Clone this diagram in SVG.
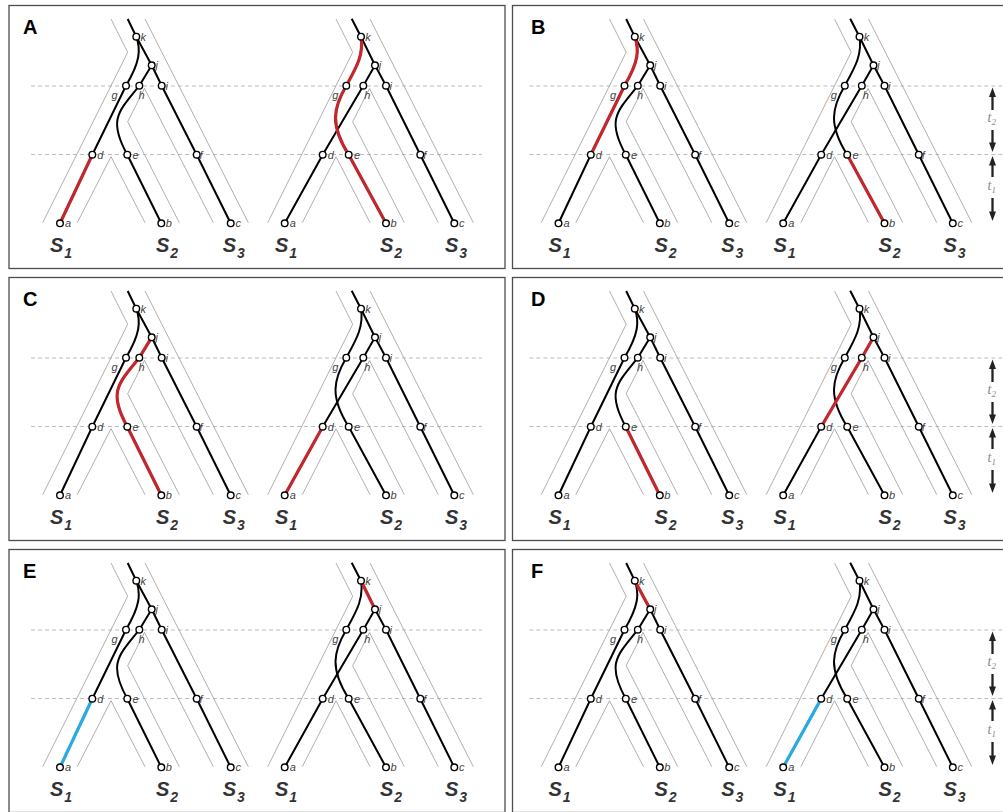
<svg xmlns="http://www.w3.org/2000/svg" xmlns:xlink="http://www.w3.org/1999/xlink" width="1003" height="812" viewBox="0 0 1003 812">
<style>
.panel{fill:#fff;stroke:#4d4d4d;stroke-width:1.3}
.sp{fill:none;stroke:#9a9a9a;stroke-width:0.8}
.dash{stroke:#b5b5b5;stroke-width:0.9;stroke-dasharray:4 3;fill:none}
.gene path{fill:none;stroke:#000;stroke-width:2;stroke-linejoin:round}
.red{fill:none;stroke:#c1272d;stroke-width:3.2;stroke-linecap:round;stroke-linejoin:round}
.blue{fill:none;stroke:#29abe2;stroke-width:3.2;stroke-linecap:round}
.nd{fill:#fff;stroke:#000;stroke-width:1.4}
.lb{font-family:"Liberation Sans",Arial,sans-serif;font-style:italic;font-size:11px;fill:#444}
.sl{font-family:"Liberation Sans",Arial,sans-serif;font-style:italic;font-weight:bold;font-size:20px;fill:#333}
.pl{font-family:"Liberation Sans",Arial,sans-serif;font-weight:bold;font-size:20px;fill:#000}
.tl{font-family:"Liberation Serif","Times New Roman",serif;font-style:italic;font-size:14px;fill:#8a8a8a}
.ar{stroke:#222;stroke-width:2.3;fill:none}
.ah{fill:#222}
</style>
<defs>
<g id="species">
<path class="sp" d="M111,19 L127.7,52.3 L42.7,222.7"/>
<path class="sp" d="M145,19 L248.3,222.7"/>
<path class="sp" d="M77.3,222.7 L111,156.7 L145,222.7"/>
<path class="sp" d="M179.3,222.7 L127.7,121.7 L144.5,88.5 L213.3,222.7"/>
</g>
<g id="geneL" class="gene">
<path d="M127.7,19 L136.3,36.7 L151.7,65.3 L161.7,85.7 L196.7,154.7 L230.7,223.3"/>
<path d="M136.3,36.7 C141,50 140,62 126,85.7 L92.3,154.7 L60,223.3"/>
<path d="M151.7,65.3 L139.3,85.7 C118,112 108,120 127.3,154.7 L161.3,223.3"/>
</g>
<g id="geneR" class="gene">
<path d="M351.7,18.7 L361,36.7 L375,65.3 L386,85.7 L420.3,154.7 L454.3,223.3"/>
<path d="M375,65.3 L363.3,85.7 L322.7,154.7 L284.7,223.3"/>
<path d="M361,36.7 C364,55 356,68 346.3,85.7 C333,108 330,125 348.7,154.7 L386,223.3"/>
</g>
<g id="nodesL">
<g id="L-k"><circle class="nd" cx="136.3" cy="36.7" r="3.3"/><text class="lb" x="140.6" y="40.5">k</text></g>
<g id="L-j"><circle class="nd" cx="151.7" cy="65.3" r="3.3"/><text class="lb" x="155.5" y="69">j</text></g>
<g id="L-g"><circle class="nd" cx="126" cy="85.7" r="3.3"/><text class="lb" x="117.5" y="99" text-anchor="end">g</text></g>
<g id="L-h"><circle class="nd" cx="139.3" cy="85.7" r="3.3"/><text class="lb" x="138.5" y="99">h</text></g>
<g id="L-i"><circle class="nd" cx="161.7" cy="85.7" r="3.3"/><text class="lb" x="165.5" y="89.5">i</text></g>
<g id="L-d"><circle class="nd" cx="92.3" cy="154.7" r="3.3"/><text class="lb" x="97.3" y="158.7">d</text></g>
<g id="L-e"><circle class="nd" cx="127.3" cy="154.7" r="3.3"/><text class="lb" x="132.5" y="158.7">e</text></g>
<g id="L-f"><circle class="nd" cx="196.7" cy="154.7" r="3.3"/><text class="lb" x="199.5" y="158.7">f</text></g>
<g id="L-a"><circle class="nd" cx="60" cy="223.3" r="3.3"/><text class="lb" x="65" y="227.3">a</text></g>
<g id="L-b"><circle class="nd" cx="161.3" cy="223.3" r="3.3"/><text class="lb" x="165.7" y="227.3">b</text></g>
<g id="L-c"><circle class="nd" cx="230.7" cy="223.3" r="3.3"/><text class="lb" x="235.5" y="227.3">c</text></g>
<text class="sl" x="50" y="251.7">S<tspan font-size="14" dx="1" dy="6">1</tspan></text>
<text class="sl" x="156" y="251.7">S<tspan font-size="14" dx="1" dy="6">2</tspan></text>
<text class="sl" x="222.7" y="251.7">S<tspan font-size="14" dx="1" dy="6">3</tspan></text>
</g>
<g id="nodesR">
<g id="R-k"><circle class="nd" cx="361" cy="36.7" r="3.3"/><text class="lb" x="365.3" y="40.5">k</text></g>
<g id="R-j"><circle class="nd" cx="375" cy="65.3" r="3.3"/><text class="lb" x="378.8" y="69">j</text></g>
<g id="R-g"><circle class="nd" cx="346.3" cy="85.7" r="3.3"/><text class="lb" x="338.3" y="99" text-anchor="end">g</text></g>
<g id="R-h"><circle class="nd" cx="363.3" cy="85.7" r="3.3"/><text class="lb" x="364.3" y="99">h</text></g>
<g id="R-i"><circle class="nd" cx="386" cy="85.7" r="3.3"/><text class="lb" x="389.6" y="89.5">i</text></g>
<g id="R-d"><circle class="nd" cx="322.7" cy="154.7" r="3.3"/><text class="lb" x="327.7" y="158.7">d</text></g>
<g id="R-e"><circle class="nd" cx="348.7" cy="154.7" r="3.3"/><text class="lb" x="353.9" y="158.7">e</text></g>
<g id="R-f"><circle class="nd" cx="420.3" cy="154.7" r="3.3"/><text class="lb" x="423.3" y="158.7">f</text></g>
<g id="R-a"><circle class="nd" cx="284.7" cy="223.3" r="3.3"/><text class="lb" x="289.7" y="227.3">a</text></g>
<g id="R-b"><circle class="nd" cx="386" cy="223.3" r="3.3"/><text class="lb" x="390.4" y="227.3">b</text></g>
<g id="R-c"><circle class="nd" cx="454.3" cy="223.3" r="3.3"/><text class="lb" x="459.1" y="227.3">c</text></g>
<text class="sl" x="275" y="251.7">S<tspan font-size="14" dx="1" dy="6">1</tspan></text>
<text class="sl" x="380" y="251.7">S<tspan font-size="14" dx="1" dy="6">2</tspan></text>
<text class="sl" x="445" y="251.7">S<tspan font-size="14" dx="1" dy="6">3</tspan></text>
</g>
<g id="tarrows">
<path class="ar" d="M992.5,110 V95 M992.5,130 V144 M992.5,177 V164 M992.5,198 V213"/>
<path class="ah" d="M992.5,87.5 L989,97 L996,97 Z M992.5,152 L989,142.5 L996,142.5 Z M992.5,156 L989,165.5 L996,165.5 Z M992.5,221 L989,211.5 L996,211.5 Z"/>
<text class="tl" x="987.5" y="122">t<tspan font-size="9" dy="3">2</tspan></text>
<text class="tl" x="987.5" y="190">t<tspan font-size="9" dy="3">1</tspan></text>
</g>
</defs>

<g id="frames">
<rect class="panel" x="9" y="5.5" width="496" height="263"/>
<rect class="panel" x="512.5" y="5.5" width="500" height="263"/>
<rect class="panel" x="9" y="277.5" width="496" height="263"/>
<rect class="panel" x="512.5" y="277.5" width="500" height="263"/>
<rect class="panel" x="9" y="549.5" width="496" height="263"/>
<rect class="panel" x="512.5" y="549.5" width="500" height="263"/>
</g>

<g id="guides">
<path class="dash" d="M31,86 H481.7 M31,154.5 H481.7 M529.3,86 H1003 M529.3,154.5 H1003"/>
<path class="dash" d="M31,358 H481.7 M31,426.5 H481.7 M529.3,358 H1003 M529.3,426.5 H1003"/>
<path class="dash" d="M31,630 H481.7 M31,698.5 H481.7 M529.3,630 H1003 M529.3,698.5 H1003"/>
</g>

<g id="panel-letters">
<text class="pl" x="23" y="34">A</text>
<text class="pl" x="531" y="34">B</text>
<text class="pl" x="23" y="306">C</text>
<text class="pl" x="531" y="306">D</text>
<text class="pl" x="23" y="578">E</text>
<text class="pl" x="531" y="578">F</text>
</g>

<g id="time-arrows">
<use xlink:href="#tarrows"/>
<use xlink:href="#tarrows" y="272"/>
<use xlink:href="#tarrows" y="544"/>
</g>

<g id="panelA">
<use xlink:href="#species"/><use xlink:href="#species" x="225"/>
<g id="connectorsA"><use xlink:href="#geneL"/><use xlink:href="#geneR"/>
<path class="red" d="M60,223.3 L92.3,154.7"/>
<path class="red" d="M361,36.7 C364,55 356,68 346.3,85.7 C333,108 330,125 348.7,154.7 L386,223.3"/></g>
<use xlink:href="#nodesL"/><use xlink:href="#nodesR"/>
</g>

<g id="panelB" transform="translate(498.5,0)">
<use xlink:href="#species"/><use xlink:href="#species" x="225"/>
<g id="connectorsB"><use xlink:href="#geneL"/><use xlink:href="#geneR"/>
<path class="red" d="M136.3,36.7 C141,50 140,62 126,85.7 L92.3,154.7"/>
<path class="red" d="M348.7,154.7 L386,223.3"/></g>
<use xlink:href="#nodesL"/><use xlink:href="#nodesR"/>
</g>

<g id="panelC" transform="translate(0,272)">
<use xlink:href="#species"/><use xlink:href="#species" x="225"/>
<g id="connectorsC"><use xlink:href="#geneL"/><use xlink:href="#geneR"/>
<path class="red" d="M151.7,65.3 L139.3,85.7 C118,112 108,120 127.3,154.7 L161.3,223.3"/>
<path class="red" d="M284.7,223.3 L322.7,154.7"/></g>
<use xlink:href="#nodesL"/><use xlink:href="#nodesR"/>
</g>

<g id="panelD" transform="translate(498.5,272)">
<use xlink:href="#species"/><use xlink:href="#species" x="225"/>
<g id="connectorsD"><use xlink:href="#geneL"/><use xlink:href="#geneR"/>
<path class="red" d="M127.3,154.7 L161.3,223.3"/>
<path class="red" d="M375,65.3 L363.3,85.7 L322.7,154.7"/></g>
<use xlink:href="#nodesL"/><use xlink:href="#nodesR"/>
</g>

<g id="panelE" transform="translate(0,544)">
<use xlink:href="#species"/><use xlink:href="#species" x="225"/>
<g id="connectorsE"><use xlink:href="#geneL"/><use xlink:href="#geneR"/>
<path class="blue" d="M60,223.3 L92.3,154.7"/>
<path class="red" d="M361,36.7 L375,65.3"/></g>
<use xlink:href="#nodesL"/><use xlink:href="#nodesR"/>
</g>

<g id="panelF" transform="translate(498.5,544)">
<use xlink:href="#species"/><use xlink:href="#species" x="225"/>
<g id="connectorsF"><use xlink:href="#geneL"/><use xlink:href="#geneR"/>
<path class="red" d="M136.3,36.7 L151.7,65.3"/>
<path class="blue" d="M284.7,223.3 L322.7,154.7"/></g>
<use xlink:href="#nodesL"/><use xlink:href="#nodesR"/>
</g>
</svg>
